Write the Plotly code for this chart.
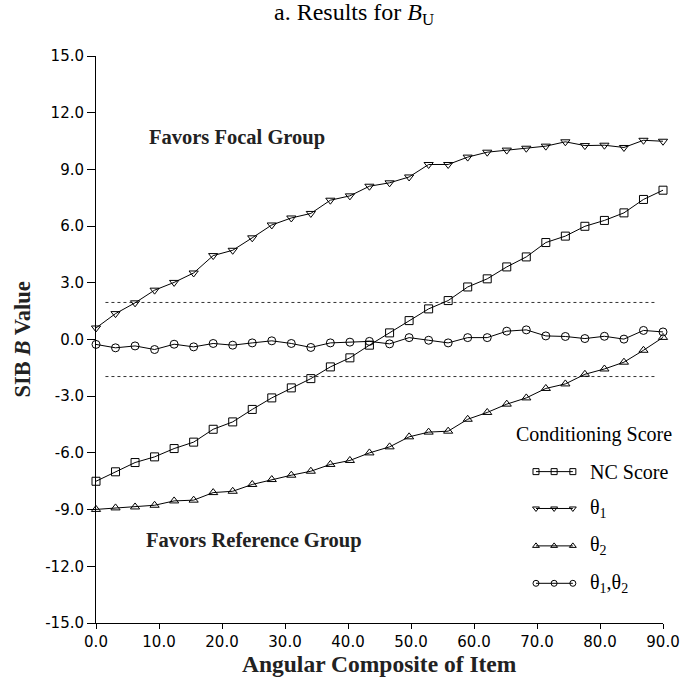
import plotly.graph_objects as go

# ---- data ----
angle = [0.0, 3.1, 6.2, 9.3, 12.4, 15.5, 18.6, 21.7, 24.8, 27.9,
         31.0, 34.1, 37.2, 40.3, 43.4, 46.6, 49.7, 52.8, 55.9, 59.0,
         62.1, 65.2, 68.3, 71.4, 74.5, 77.6, 80.7, 83.8, 86.9, 90.0]

nc_score = [-7.50, -7.00, -6.51, -6.21, -5.77, -5.43, -4.75, -4.36, -3.70, -3.09,
            -2.56, -2.07, -1.45, -0.97, -0.30, 0.35, 1.00, 1.62, 2.06, 2.78,
            3.21, 3.84, 4.37, 5.13, 5.47, 5.99, 6.30, 6.70, 7.41, 7.90]

theta1 = [0.61, 1.37, 1.94, 2.61, 3.02, 3.52, 4.44, 4.72, 5.38, 6.06,
          6.43, 6.67, 7.37, 7.60, 8.11, 8.29, 8.60, 9.26, 9.26, 9.65,
          9.91, 10.02, 10.12, 10.23, 10.46, 10.26, 10.28, 10.16, 10.54, 10.49]

theta2 = [-8.99, -8.91, -8.86, -8.77, -8.54, -8.50, -8.10, -8.03, -7.67, -7.41,
          -7.18, -6.97, -6.61, -6.40, -6.00, -5.68, -5.15, -4.90, -4.85, -4.22,
          -3.86, -3.42, -3.09, -2.59, -2.35, -1.84, -1.56, -1.20, -0.57, 0.11]

theta12 = [-0.26, -0.44, -0.34, -0.53, -0.25, -0.39, -0.21, -0.30, -0.18, -0.07,
           -0.21, -0.42, -0.18, -0.14, -0.10, -0.23, 0.10, -0.04, -0.18, 0.10,
           0.10, 0.44, 0.51, 0.19, 0.16, 0.05, 0.17, 0.02, 0.48, 0.40]

crit_x = [1.5, 89.0]
crit_upper = [1.96, 1.96]
crit_lower = [-1.96, -1.96]

series_names = ["NC Score", "θ<sub>1</sub>", "θ<sub>2</sub>", "θ<sub>1</sub>,θ<sub>2</sub>"]
series_symbols = ["square-open", "triangle-down-open", "triangle-up-open", "circle-open"]
series_values = [nc_score, theta1, theta2, theta12]

y_ticks = [15.0, 12.0, 9.0, 6.0, 3.0, 0.0, -3.0, -6.0, -9.0, -12.0, -15.0]
y_tick_text = ["15.0", "12.0", "9.0", "6.0", "3.0", "0.0", "-3.0", "-6.0", "-9.0", "-12.0", "-15.0"]
x_ticks = [0, 10, 20, 30, 40, 50, 60, 70, 80, 90]
x_tick_text = ["0.0", "10.0", "20.0", "30.0", "40.0", "50.0", "60.0", "70.0", "80.0", "90.0"]

# legend key layout (fractions of plot area)
key_x = [0.776, 0.808, 0.841]
key_rows = [0.267, 0.202, 0.136, 0.070]

SERIF = "Liberation Serif, Times New Roman, serif"
SANS = "DejaVu Sans, sans-serif"

fig = go.Figure()

for cy in (crit_upper, crit_lower):
    fig.add_trace(go.Scatter(x=crit_x, y=cy, mode="lines",
                             line=dict(color="#333", width=1, dash="dot"),
                             showlegend=False, hoverinfo="skip"))

for name, sym, vals in zip(series_names, series_symbols, series_values):
    fig.add_trace(go.Scatter(x=angle, y=vals, mode="lines+markers", name=name,
                             line=dict(color="black", width=1),
                             marker=dict(symbol=sym, size=8, color="black",
                                         line=dict(width=1, color="black")),
                             cliponaxis=False, showlegend=False))

# legend keys on an overlay axis
for row, sym in zip(key_rows, series_symbols):
    fig.add_trace(go.Scatter(x=key_x, y=[row] * len(key_x), mode="lines+markers",
                             xaxis="x2", yaxis="y2",
                             line=dict(color="black", width=1),
                             marker=dict(symbol=sym, size=6, color="black",
                                         line=dict(width=1, color="black")),
                             cliponaxis=False, showlegend=False, hoverinfo="skip"))

annotations = [
    dict(text="a. Results for <i>B</i><sub>U</sub>", x=0.455, y=1.074, xref="paper", yref="paper",
         showarrow=False, font=dict(family=SERIF, size=24, color="black"),
         xanchor="center", yanchor="middle"),
    dict(text="<b>Favors Focal Group</b>", x=0.248, y=0.857, xref="paper", yref="paper",
         showarrow=False, font=dict(family=SERIF, size=20.5, color="#222"),
         xanchor="center", yanchor="middle"),
    dict(text="<b>Favors Reference Group</b>", x=0.278, y=0.146, xref="paper", yref="paper",
         showarrow=False, font=dict(family=SERIF, size=20.5, color="#222"),
         xanchor="center", yanchor="middle"),
    dict(text="Conditioning Score", x=0.878, y=0.332, xref="paper", yref="paper",
         showarrow=False, font=dict(family=SERIF, size=20, color="black"),
         xanchor="center", yanchor="middle"),
    dict(text="<b>Angular Composite of Item</b>", x=0.5, y=-0.073, xref="paper", yref="paper",
         showarrow=False, font=dict(family=SERIF, size=23.5, color="#222"),
         xanchor="center", yanchor="middle"),
    dict(text="<b>SIB <i>B</i> Value</b>", x=-0.1305, y=0.5, xref="paper", yref="paper",
         showarrow=False, textangle=-90, font=dict(family=SERIF, size=22.5, color="#222"),
         xanchor="center", yanchor="middle"),
]
for row, name in zip(key_rows, series_names):
    annotations.append(dict(text=name, x=0.868, y=row, xref="paper", yref="paper",
                            showarrow=False, font=dict(family=SERIF, size=20, color="black"),
                            xanchor="left", yanchor="middle"))

fig.update_layout(
    width=682, height=677,
    margin=dict(l=96, r=19, t=56, b=54),
    paper_bgcolor="white", plot_bgcolor="white",
    showlegend=False,
    annotations=annotations,
    xaxis=dict(range=[0, 90], tickvals=x_ticks, ticktext=x_tick_text,
               showline=True, linecolor="black", linewidth=1, automargin=False,
               ticks="outside", ticklen=5, tickcolor="black", showgrid=False, zeroline=False,
               tickfont=dict(family=SANS, size=15, color="black")),
    yaxis=dict(range=[-15, 15], tickvals=y_ticks, ticktext=y_tick_text,
               showline=True, linecolor="black", linewidth=1, automargin=False,
               ticks="outside", ticklen=8, tickcolor="black", showgrid=False, zeroline=False,
               tickfont=dict(family=SANS, size=15, color="black")),
    xaxis2=dict(range=[0, 1], overlaying="x", visible=False, fixedrange=True),
    yaxis2=dict(range=[0, 1], overlaying="y", visible=False, fixedrange=True),
)

# remove the browser's default 8px body margin so the figure sits at the window origin
fig.write_html("out.html", config={"displayModeBar": False},
               post_script="document.body.style.margin='0';document.body.style.padding='0';")
